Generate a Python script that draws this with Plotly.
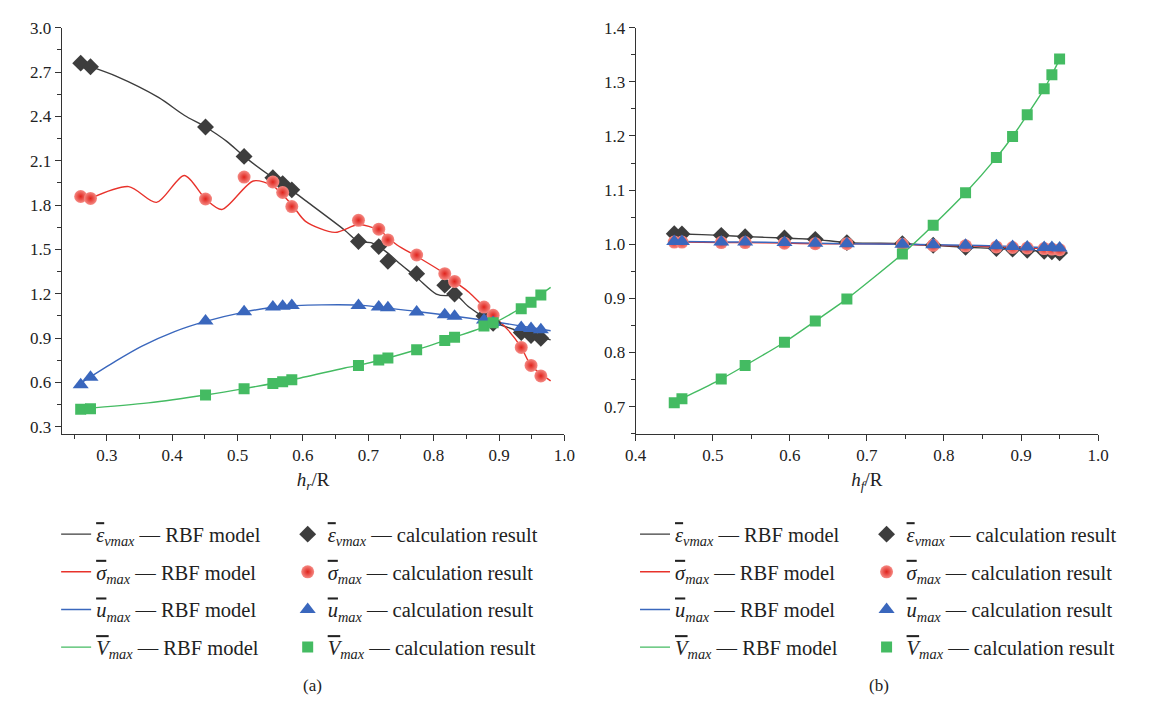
import plotly.graph_objects as go

# ---------------- data: panel (a) ----------------
xa = [0.26, 0.275, 0.451, 0.51, 0.554, 0.569, 0.583, 0.685, 0.716, 0.73, 0.774, 0.817, 0.832, 0.877, 0.891, 0.934, 0.949, 0.964]
eps_a = [2.76, 2.736, 2.328, 2.129, 1.985, 1.945, 1.903, 1.553, 1.519, 1.42, 1.336, 1.258, 1.198, 1.05, 1.0, 0.937, 0.917, 0.899]
sig_a = [1.858, 1.845, 1.841, 1.989, 1.956, 1.885, 1.79, 1.697, 1.637, 1.564, 1.462, 1.336, 1.283, 1.11, 1.054, 0.837, 0.715, 0.644]
u_a = [0.585, 0.635, 1.015, 1.078, 1.11, 1.116, 1.12, 1.12, 1.11, 1.105, 1.077, 1.058, 1.048, 1.022, 1.005, 0.972, 0.965, 0.957]
v_a = [0.418, 0.422, 0.515, 0.558, 0.593, 0.604, 0.618, 0.715, 0.751, 0.766, 0.821, 0.884, 0.906, 0.981, 1.003, 1.098, 1.143, 1.191]

# RBF model curves (traced)
eps_cx = [0.275, 0.314, 0.379, 0.419, 0.451, 0.484, 0.51, 0.554, 0.584, 0.604, 0.664, 0.685, 0.704, 0.716, 0.73, 0.744, 0.774, 0.804, 0.819, 0.832, 0.854, 0.877, 0.904, 0.934, 0.979]
eps_cy = [2.736, 2.672, 2.528, 2.406, 2.328, 2.229, 2.129, 1.985, 1.896, 1.83, 1.63, 1.553, 1.546, 1.519, 1.475, 1.42, 1.31, 1.198, 1.187, 1.198, 1.11, 1.043, 0.987, 0.944, 0.888]
sig_cx = [0.275, 0.3335, 0.376, 0.4186, 0.451, 0.476, 0.524, 0.554, 0.584, 0.604, 0.649, 0.685, 0.716, 0.744, 0.774, 0.817, 0.832, 0.854, 0.877, 0.891, 0.914, 0.934, 0.949, 0.979]
sig_cy = [1.845, 1.925, 1.818, 2.0, 1.841, 1.77, 1.963, 1.93, 1.797, 1.69, 1.615, 1.668, 1.63, 1.53, 1.453, 1.336, 1.283, 1.21, 1.11, 1.054, 0.954, 0.837, 0.715, 0.611]
u_cx = [0.263, 0.3135, 0.353, 0.4036, 0.451, 0.51, 0.564, 0.629, 0.685, 0.774, 0.877, 0.979]
u_cy = [0.604, 0.744, 0.844, 0.944, 1.013, 1.076, 1.114, 1.125, 1.123, 1.08, 1.021, 0.95]
v_cx = [0.261, 0.3635, 0.451, 0.51, 0.583, 0.664, 0.685, 0.774, 0.832, 0.891, 0.934, 0.979]
v_cy = [0.422, 0.462, 0.515, 0.558, 0.618, 0.698, 0.715, 0.821, 0.906, 1.0, 1.105, 1.243]

# ---------------- data: panel (b) ----------------
xb = [0.45, 0.46, 0.511, 0.542, 0.593, 0.633, 0.674, 0.746, 0.786, 0.828, 0.868, 0.889, 0.908, 0.93, 0.94, 0.95]
eps_b = [1.0195, 1.019, 1.0164, 1.014, 1.0115, 1.009, 1.003, 1.001, 0.998, 0.9945, 0.992, 0.991, 0.989, 0.987, 0.986, 0.984]
sig_b = [1.004, 1.004, 1.003, 1.003, 1.002, 1.001, 1.001, 1.0, 0.998, 0.997, 0.995, 0.994, 0.993, 0.992, 0.991, 0.990]
u_b = [1.005, 1.005, 1.004, 1.004, 1.003, 1.002, 1.001, 1.0, 0.999, 0.998, 0.997, 0.996, 0.995, 0.994, 0.994, 0.993]
v_b = [0.707, 0.7145, 0.751, 0.776, 0.819, 0.858, 0.899, 0.982, 1.035, 1.095, 1.16, 1.199, 1.239, 1.287, 1.313, 1.342]

# ---------------- styles ----------------
C_BLK = "#3d3d3d"
C_RED = "#e8322b"
C_BLU = "#3a67bd"
C_GRN = "#44bb62"
FONT = "Liberation Serif, serif"

def ov(sym, sub):
    return ('<span style="text-decoration:overline"><i>' + sym + '</i></span>'
            '<sub><i>' + sub + '</i></sub>')

names = [ov("ε", "vmax"), ov("σ", "max"), ov("u", "max"), ov("V", "max")]
colors = [C_BLK, C_RED, C_BLU, C_GRN]
msyms = ["diamond", "circle", "triangle-up", "square"]
msizes = [13, 13, 14, 11]

fig = go.Figure()

curves_a = [(eps_cx, eps_cy), (sig_cx, sig_cy), (u_cx, u_cy), (v_cx, v_cy)]
pts_a = [eps_a, sig_a, u_a, v_a]
pts_b = [eps_b, sig_b, u_b, v_b]

def marker(i):
    m = dict(symbol=msyms[i], size=msizes[i], color=colors[i], line=dict(width=0))
    if i == 1:
        m = dict(symbol="circle", size=13, color="#f58a84",
                 gradient=dict(type="radial", color="#e0231c"), line=dict(width=0))
    return m

# panel (a)
for i in range(4):
    cx, cy = curves_a[i]
    fig.add_trace(go.Scatter(x=cx, y=cy, mode="lines", xaxis="x", yaxis="y",
                             line=dict(color=colors[i], width=1.4, shape="spline", smoothing=0.8),
                             name=names[i] + " — RBF model", legend="legend", legendgroup="a%d" % i))
for i in range(4):
    fig.add_trace(go.Scatter(x=xa, y=pts_a[i], mode="markers", xaxis="x", yaxis="y",
                             marker=marker(i),
                             name=names[i] + " — calculation result", legend="legend2", legendgroup="b%d" % i))
# panel (b)
for i in range(4):
    fig.add_trace(go.Scatter(x=xb, y=pts_b[i], mode="lines", xaxis="x2", yaxis="y2",
                             line=dict(color=colors[i], width=1.4, shape="spline", smoothing=0.6),
                             name=names[i] + " — RBF model", legend="legend3", legendgroup="c%d" % i))
for i in range(4):
    fig.add_trace(go.Scatter(x=xb, y=pts_b[i], mode="markers", xaxis="x2", yaxis="y2",
                             marker=marker(i),
                             name=names[i] + " — calculation result", legend="legend4", legendgroup="d%d" % i))

W, H = 1168, 712
def px(x): return x / W
def py(y): return 1 - y / H

axis_common = dict(showline=True, linecolor="#333333", linewidth=1.3, ticks="outside",
                   ticklen=6, tickwidth=1.2, tickcolor="#333333", showgrid=False, zeroline=False,
                   tickfont=dict(family=FONT, size=17, color="#222222"), mirror=False)

fig.update_layout(
    width=W, height=H, margin=dict(l=0, r=0, t=0, b=0),
    paper_bgcolor="white", plot_bgcolor="white",
    font=dict(family=FONT, color="#222222"),
    xaxis=dict(domain=[px(51.7), px(564)], range=[0.231, 1.0], tick0=0.3, dtick=0.1, tickformat=".1f",
               minor=dict(ticks="outside", ticklen=4, tick0=0.25, dtick=0.1, tickcolor="#333333"),
               title=dict(text="<i>h</i><sub><i>r</i></sub>/R", font=dict(family=FONT, size=19), standoff=8),
               anchor="y", **axis_common),
    yaxis=dict(domain=[py(432), py(19)], range=[0.253, 3.0], tick0=0.3, dtick=0.3, tickformat=".1f",
               minor=dict(ticks="outside", ticklen=4, tick0=0.15, dtick=0.3, tickcolor="#333333"),
               anchor="x", **axis_common),
    xaxis2=dict(domain=[px(636.7), px(1108)], range=[0.4, 1.0], tick0=0.4, dtick=0.1, tickformat=".1f",
                minor=dict(ticks="outside", ticklen=4, tick0=0.45, dtick=0.1, tickcolor="#333333"),
                title=dict(text="<i>h</i><sub><i>f</i></sub>/R", font=dict(family=FONT, size=19), standoff=8),
                anchor="y2", **axis_common),
    yaxis2=dict(domain=[py(432), py(19)], range=[0.65, 1.4], tick0=0.7, dtick=0.1, tickformat=".1f",
                minor=dict(ticks="outside", ticklen=4, tick0=0.65, dtick=0.1, tickcolor="#333333"),
                anchor="x2", **axis_common),
    showlegend=True,
)

leg_common = dict(font=dict(family=FONT, size=20.5, color="#222222"), bgcolor="rgba(0,0,0,0)",
                  xanchor="left", yanchor="top", traceorder="grouped", tracegroupgap=8, itemwidth=30)
fig.update_layout(
    legend=dict(x=px(46), y=py(514), **leg_common),
    legend2=dict(x=px(282), y=py(514), **leg_common),
    legend3=dict(x=px(636), y=py(514), **leg_common),
    legend4=dict(x=px(872), y=py(514), **leg_common),
)

fig.add_annotation(text="(a)", x=px(307), y=py(688), xref="paper", yref="paper", showarrow=False,
                   xanchor="center", yanchor="middle",
                   font=dict(family=FONT, size=17, color="#222222"))
fig.add_annotation(text="(b)", x=px(885), y=py(688), xref="paper", yref="paper", showarrow=False,
                   xanchor="center", yanchor="middle",
                   font=dict(family=FONT, size=17, color="#222222"))

fig.write_html("out.html", config={"displayModeBar": False},
               post_script="document.body.style.margin='0';document.body.style.overflow='hidden';")
